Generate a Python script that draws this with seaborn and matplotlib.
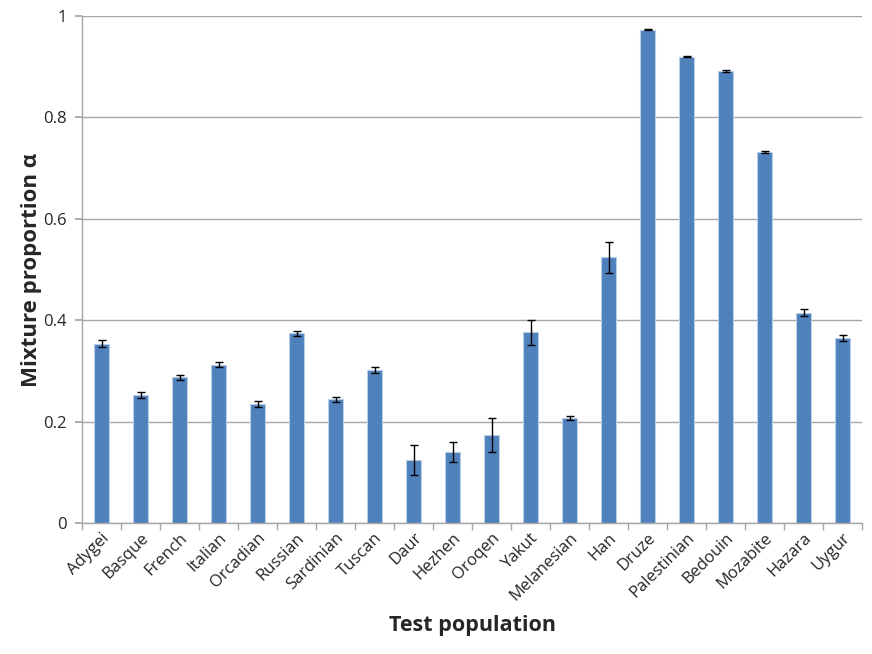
import matplotlib
matplotlib.use("Agg")
import matplotlib.pyplot as plt
import seaborn as sns
import numpy as np
import pandas as pd
from matplotlib.ticker import FixedLocator

populations = ["Adygei", "Basque", "French", "Italian", "Orcadian", "Russian", "Sardinian",
               "Tuscan", "Daur", "Hezhen", "Oroqen", "Yakut", "Melanesian", "Han", "Druze",
               "Palestinian", "Bedouin", "Mozabite", "Hazara", "Uygur"]
alpha = [0.354, 0.253, 0.287, 0.312, 0.235, 0.374, 0.244, 0.302, 0.124, 0.140,
         0.174, 0.376, 0.208, 0.524, 0.973, 0.920, 0.892, 0.731, 0.415, 0.365]
err = [0.006, 0.006, 0.005, 0.005, 0.006, 0.005, 0.005, 0.006, 0.029, 0.019,
       0.033, 0.024, 0.004, 0.031, 0.001, 0.001, 0.002, 0.002, 0.007, 0.006]
yticks = [0, 0.2, 0.4, 0.6, 0.8, 1]
ytick_labels = ["0", "0.2", "0.4", "0.6", "0.8", "1"]

df = pd.DataFrame({"pop": populations, "alpha": alpha, "err": err})

sns.set_theme(style="white")
plt.rcParams["font.family"] = ["Open Sans", "DejaVu Sans"]

fig = plt.figure(figsize=(8.72, 6.54), dpi=100)
ax = fig.add_axes([82/872, 1-523/654, (862-82)/872, (523-16)/654])

sns.barplot(data=df, x="pop", y="alpha", color="#4F81BD", width=0.4,
            edgecolor="#B9CDE5", linewidth=0.8, saturation=1, ax=ax, errorbar=None)
xs = ax.get_xticks()
ax.errorbar(xs, df["alpha"], yerr=df["err"], fmt="none", ecolor="black",
            elinewidth=1.0, capsize=3, capthick=1.0, zorder=5)

ax.set_xlim(-0.5, len(populations) - 0.5)
ax.set_yticks(yticks)
ax.set_yticklabels(ytick_labels, fontsize=12)
ax.set_ylim(0, 1)
ax.grid(axis="y", color="#A6A6A6", linewidth=1.0)
ax.set_axisbelow(True)

for s in ["top", "right"]:
    ax.spines[s].set_visible(False)
for s in ["left", "bottom"]:
    ax.spines[s].set_color("#A6A6A6")
    ax.spines[s].set_linewidth(1.0)

ax.tick_params(axis="y", which="major", length=5, color="#A6A6A6", direction="out", left=True, pad=6)
ax.set_xticks(xs)
ax.set_xticklabels(populations, rotation=45, ha="right", rotation_mode="anchor", fontsize=12)
ax.xaxis.set_minor_locator(FixedLocator(np.arange(-0.5, len(populations), 1.0)))
ax.tick_params(axis="x", which="minor", length=5, color="#A6A6A6", direction="out", bottom=True)
ax.tick_params(axis="x", which="major", length=0, pad=5)

ax.set_xlabel("Test population", fontsize=15.5, fontweight="bold", labelpad=8)
ax.set_ylabel("Mixture proportion \u03b1", fontsize=16, fontweight="bold", labelpad=1)

fig.savefig("out.png", dpi=100)
